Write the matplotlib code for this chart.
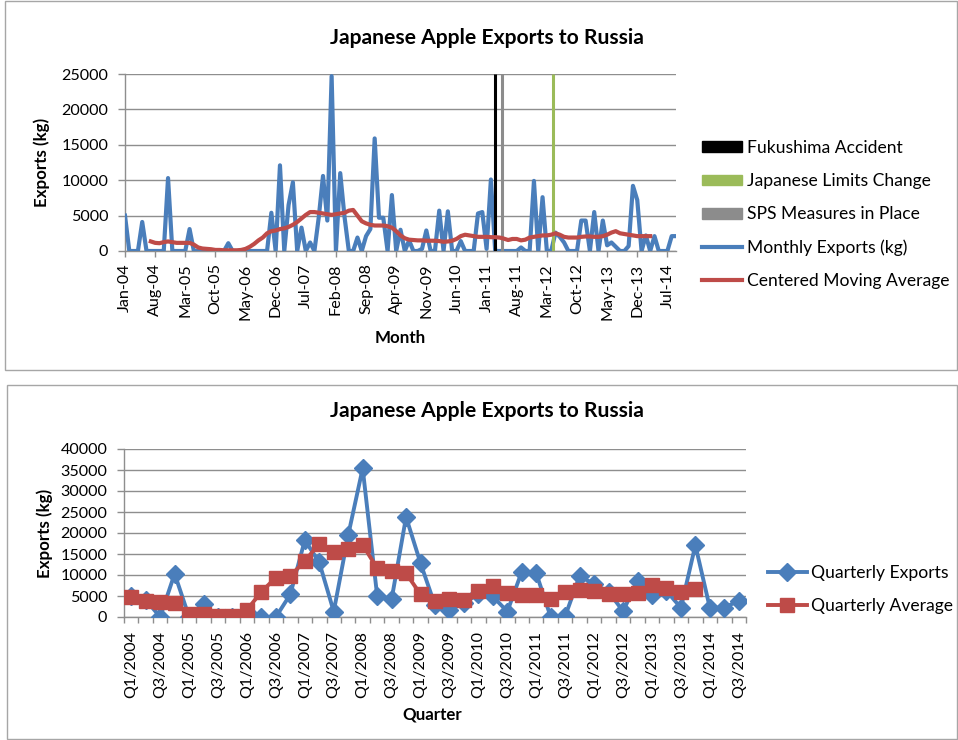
import numpy as np
import pandas as pd
import matplotlib
matplotlib.use("Agg")
import matplotlib.pyplot as plt
from matplotlib.lines import Line2D
from matplotlib.patches import Patch, Rectangle

plt.rcParams['font.family'] = ['Lato', 'DejaVu Sans']

# ---------------- data ----------------
months = pd.date_range('2004-01-01', periods=129, freq='MS').strftime('%b-%y').tolist()

monthly_exports = [
    5000, 0, 0, 0, 4100, 0, 0, 0, 0, 0,            # Jan-04 .. Oct-04
    10300, 0, 0, 0, 0, 3100, 0, 0, 0, 0,           # Nov-04 .. Aug-05
    0, 0, 0, 0, 1100, 0, 0, 0, 0, 0,               # Sep-05 .. Jun-06
    0, 0, 0, 0, 5400, 0, 12100, 0, 6500, 9700,     # Jul-06 .. Apr-07
    0, 3300, 0, 1200, 0, 4700, 10600, 4300, 24700, 0,   # May-07 .. Feb-08
    11000, 4800, 0, 0, 1900, 0, 2100, 3100, 15900, 4700,  # Mar-08 .. Dec-08
    4700, 0, 7900, 0, 3000, 0, 1500, 0, 0, 300,    # Jan-09 .. Oct-09
    2900, 0, 0, 5700, 0, 5600, 0, 0, 1400, 0,      # Nov-09 .. Aug-10
    0, 0, 5300, 5500, 300, 10100, 0, 0, 0, 0,      # Sep-10 .. Jun-11
    0, 0, 500, 0, 0, 9900, 0, 7600, 0, 0,          # Jul-11 .. Apr-12
    2600, 2000, 1200, 0, 0, 0, 4300, 4300, 0, 5500,  # May-12 .. Feb-13
    0, 4300, 800, 1200, 600, 0, 0, 700, 9200, 7200,  # Mar-13 .. Dec-13
    0, 2200, 0, 2100, 0, 0, 0, 2100, 2100,         # Jan-14 .. Sep-14
]

ma_first_month = 6   # first month with a centred 12-month average (Jul-04)
centered_ma = [
    1350, 1150, 1100, 1250, 1350, 1250, 1150, 1150, 1150, 1150,
    900, 500, 350, 300, 250, 150, 150, 100, 100, 100,
    100, 150, 300, 600, 1000, 1500, 1900, 2500, 2800, 2900,
    3100, 3200, 3400, 3700, 4100, 4600, 5100, 5500, 5500, 5400,
    5300, 5200, 5100, 5200, 5300, 5400, 5700, 5800, 5000, 4200,
    3900, 3700, 3600, 3600, 3600, 3500, 3300, 2800, 2200, 1800,
    1600, 1550, 1500, 1500, 1450, 1450, 1450, 1400, 1300, 1350,
    1450, 1700, 2100, 2300, 2200, 2100, 2000, 2000, 2000, 1950,
    1950, 1900, 1750, 1550, 1700, 1700, 1500, 1600, 1900, 2000,
    2100, 2200, 2200, 2300, 2500, 2300, 2000, 1900, 1900, 1900,
    2000, 2050, 2050, 2000, 2000, 2100, 2300, 2600, 2800, 2500,
    2400, 2300, 2200, 2100, 2100, 2100, 2100,
]

# event markers, as month index counted from Jan-04
event_names = ['Fukushima Accident', 'Japanese Limits Change', 'SPS Measures in Place']
event_month = [86.0, 99.5, 87.6]
event_colors = ['#000000', '#9BBB59', '#8C8C8C']

quarters = [f"Q{k % 4 + 1}/{2004 + k // 4}" for k in range(43)]
quarterly_exports = [
    5000, 4100, 0, 10300, 0, 3100, 0, 0, 1100, 0,
    0, 5400, 18300, 13000, 1300, 19500, 35400, 5100, 4200, 23800,
    12800, 2800, 1700, 3300, 5500, 4900, 1300, 10800, 10400, 0,
    200, 9800, 7800, 6000, 1400, 8600, 5300, 6200, 2200, 17100,
    2200, 2200, 3900,
]
quarterly_average = [
    4800, 3800, 3500, 3400, 700, 800, 300, 300, 1700, 6000,
    9400, 9800, 13300, 17500, 15500, 16200, 17200, 11600, 10900, 10400,
    5400, 3700, 4300, 4100, 6100, 7300, 5600, 5300, 5300, 4300,
    6000, 6400, 6100, 5400, 5400, 5800, 7600, 7000, 6000, 6600,
]

# ---------------- style ----------------
BLUE = '#4A7EBB'
RED = '#BE4B48'
GRID = '#8E8E8E'
W, H = 958, 740
TICK_FS = 11.6
LABEL_FS = 12.2
TITLE_FS = 15.2
LEGEND_FS = 12.6


def fx(px):
    return px / W


def fy(py):
    return 1 - py / H


def style_axes(ax):
    ax.grid(axis='y', color=GRID, lw=1.0)
    ax.set_axisbelow(True)
    for s in ('top', 'right'):
        ax.spines[s].set_visible(False)
    for s in ('left', 'bottom'):
        ax.spines[s].set_color(GRID)
        ax.spines[s].set_linewidth(1.0)
    ax.tick_params(axis='both', which='both', colors=GRID, labelcolor='black',
                   labelsize=TICK_FS, direction='out', width=1.0)
    ax.tick_params(axis='y', length=5, pad=7)
    ax.tick_params(axis='x', length=4, pad=5)


fig = plt.figure(figsize=(W / 100, H / 100), dpi=100)

# chart frames
fig.patches.append(Rectangle((fx(5), fy(370)), fx(952), 370 / H - 0.002, transform=fig.transFigure,
                             fill=False, edgecolor='#A6A6A6', lw=1.0))
fig.patches.append(Rectangle((fx(7), fy(739)), fx(950), (739 - 385) / H, transform=fig.transFigure,
                             fill=False, edgecolor='#A6A6A6', lw=1.0))

# ---------------- monthly chart ----------------
ax1 = fig.add_axes([fx(125), fy(251), fx(551), 177 / H])
style_axes(ax1)
x_m = np.arange(len(monthly_exports))
x_ma = np.arange(ma_first_month, ma_first_month + len(centered_ma))

ax1.plot(x_m, monthly_exports, color=BLUE, lw=3.0, solid_joinstyle='round', zorder=3)
for pos, col in zip(event_month, event_colors):
    ax1.vlines(pos, 0, 25000, color=col, lw=2.2, zorder=4)
ax1.plot(x_ma, centered_ma, color=RED, lw=3.0, solid_joinstyle='round', zorder=5)

ax1.set_xlim(0, len(monthly_exports) - 1)
ax1.set_ylim(0, 25000)
ax1.set_yticks(np.arange(0, 25001, 5000))
ax1.set_xticks(x_m[::7])
ax1.set_xticklabels(months[::7], rotation=90)

fig.text(fx(487), fy(38), 'Japanese Apple Exports to Russia', ha='center', va='center',
         fontsize=TITLE_FS, fontweight='bold')
fig.text(fx(42), fy(162), 'Exports (kg)', ha='center', va='center', rotation=90,
         fontsize=LABEL_FS, fontweight='bold')
fig.text(fx(400), fy(338), 'Month', ha='center', va='center', fontsize=LABEL_FS, fontweight='bold')

handles1 = [Patch(facecolor=c, edgecolor=c) for c in event_colors]
handles1 += [Line2D([], [], color=BLUE, lw=3.0), Line2D([], [], color=RED, lw=3.0)]
labels1 = event_names + ['Monthly Exports (kg)', 'Centered Moving Average']
fig.legend(handles1, labels1, loc='upper left', bbox_to_anchor=(fx(702), fy(140)),
           frameon=False, fontsize=LEGEND_FS, handlelength=2.3, handleheight=0.57,
           handletextpad=0.25, labelspacing=0.98, borderpad=0, borderaxespad=0)

# ---------------- quarterly chart ----------------
ax2 = fig.add_axes([fx(124), fy(617), fx(622), 168 / H])
style_axes(ax2)
x_q = np.arange(len(quarterly_exports))
x_qa = np.arange(len(quarterly_average))
ax2.plot(x_q, quarterly_exports, color=BLUE, lw=2.8, marker='D', ms=9.5, zorder=3)
ax2.plot(x_qa, quarterly_average, color=RED, lw=2.8, marker='s', ms=9.5, zorder=4)

ax2.set_xlim(-0.5, len(quarters) - 0.5)
ax2.set_ylim(0, 40000)
ax2.set_yticks(np.arange(0, 40001, 5000))
ax2.set_xticks(x_q[::2])
ax2.set_xticklabels(quarters[::2], rotation=90)
ax2.set_xticks(np.arange(-0.5, len(quarters), 1), minor=True)
ax2.tick_params(axis='x', which='major', length=0, pad=10)
ax2.tick_params(axis='x', which='minor', length=4.5)

fig.text(fx(487), fy(411), 'Japanese Apple Exports to Russia', ha='center', va='center',
         fontsize=TITLE_FS, fontweight='bold')
fig.text(fx(45), fy(533), 'Exports (kg)', ha='center', va='center', rotation=90,
         fontsize=LABEL_FS, fontweight='bold')
fig.text(fx(432), fy(714), 'Quarter', ha='center', va='center', fontsize=LABEL_FS, fontweight='bold')

handles2 = [Line2D([], [], color=BLUE, lw=2.8, marker='D', ms=9.5),
            Line2D([], [], color=RED, lw=2.8, marker='s', ms=9.5)]
fig.legend(handles2, ['Quarterly Exports', 'Quarterly Average'], loc='upper left',
           bbox_to_anchor=(fx(768), fy(565)), frameon=False, fontsize=LEGEND_FS,
           handlelength=2.2, handletextpad=0.25, labelspacing=0.98, borderpad=0, borderaxespad=0)

fig.savefig('out.png', dpi=100)
